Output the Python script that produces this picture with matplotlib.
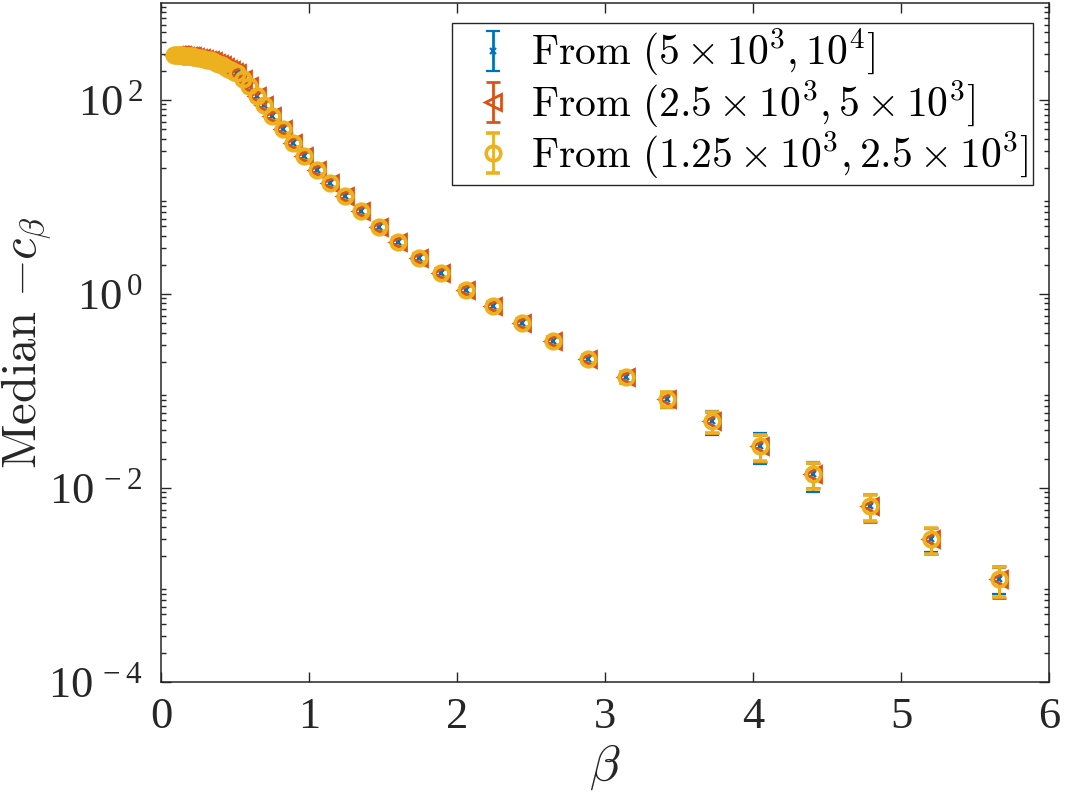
import numpy as np
import matplotlib.pyplot as plt
from matplotlib.ticker import LogLocator, FuncFormatter, NullFormatter, FixedLocator
from matplotlib.legend_handler import HandlerErrorbar

plt.rcParams['font.family'] = 'Liberation Serif'
plt.rcParams['mathtext.fontset'] = 'cm'

# dense part at small beta (markers overlap into one band)
beta_dense = [0.09, 0.10, 0.11, 0.12, 0.13, 0.14, 0.15, 0.165, 0.18, 0.195, 0.21, 0.23,
              0.25, 0.27, 0.29, 0.31, 0.33, 0.35, 0.37, 0.39, 0.41, 0.43, 0.45, 0.47, 0.49]
median_dense = [288, 289, 289, 289, 288, 288, 287, 286, 285, 283, 281, 278,
                274, 270, 266, 261, 256, 250, 243, 236, 228, 220, 211, 204, 196]

# separated points
beta = [0.512, 0.557, 0.593, 0.647, 0.695, 0.748, 0.823, 0.89, 0.964, 1.052, 1.14, 1.24,
        1.349, 1.47, 1.598, 1.74, 1.895, 2.063, 2.245, 2.44, 2.65, 2.886, 3.142, 3.419,
        3.722, 4.046, 4.403, 4.788, 5.206, 5.664]
median = [190, 164, 139, 110, 88.8, 68.4, 50.2, 36.0, 26.5, 19.0, 13.9, 10.2,
          7.17, 4.91, 3.44, 2.35, 1.64, 1.10, 0.752, 0.502, 0.327, 0.214, 0.139, 0.0827,
          0.0491, 0.0271, 0.0139, 0.00652, 0.00298, 0.00115]

err_blue = [17, 15, 12.5, 10, 8.0, 6.2, 4.5, 3.2, 2.4, 1.7, 1.25, 0.92,
            0.65, 0.44, 0.31, 0.21, 0.15, 0.10, 0.068, 0.045, 0.03, 0.02, 0.018, 0.016,
            0.0135, 0.0095, 0.0048, 0.0019, 0.0008, 0.00035]
err_red = [17, 15, 12.5, 10, 8.0, 6.2, 4.5, 3.2, 2.4, 1.7, 1.25, 0.92,
           0.65, 0.44, 0.31, 0.21, 0.15, 0.10, 0.068, 0.045, 0.03, 0.02, 0.017, 0.015,
           0.012, 0.0085, 0.0040, 0.0021, 0.0009, 0.00042]
err_yellow = [17, 15, 12.5, 10, 8.0, 6.2, 4.5, 3.2, 2.4, 1.7, 1.25, 0.92,
              0.65, 0.44, 0.31, 0.21, 0.15, 0.10, 0.068, 0.045, 0.03, 0.02, 0.017, 0.015,
              0.012, 0.0081, 0.0042, 0.0020, 0.0009, 0.0004]

labels = [r'$\mathrm{From}\ (5\times10^3,10^4]$',
          r'$\mathrm{From}\ (2.5\times10^3,5\times10^3]$',
          r'$\mathrm{From}\ (1.25\times10^3,2.5\times10^3]$']
colors = ['#0072BD', '#D95319', '#EDB120']
markers = ['x', '<', 'o']
msizes = [5, 11, 10.5]
mews = [1.6, 2, 2.6]
errs = [err_blue, err_red, err_yellow]

fig = plt.figure(figsize=(10.65, 8.09), dpi=100)
ax = fig.add_axes([161/1065, 1-682/809, (1049-161)/1065, (682-3)/809])

handles = []
for c, m, ms, mw, e, lab in zip(colors, markers, msizes, mews, errs, labels):
    ax.plot(beta_dense, median_dense, linestyle='none', marker=m, ms=ms,
            mfc='none', mec=c, mew=mw)
    h = ax.errorbar(beta, median, yerr=e, fmt=m, ms=ms, mfc='none', mec=c, mew=mw,
                    ecolor=c, elinewidth=2, capsize=5, capthick=2, label=lab)
    handles.append(h)

ax.set_yscale('log')
ax.set_xlim(0, 6)
ax.set_ylim(1e-4, 1e3)
ax.yaxis.set_major_locator(FixedLocator([1e-4, 1e-2, 1e0, 1e2]))
ax.yaxis.set_major_formatter(FuncFormatter(lambda v, p: r'$\mathdefault{10^{\,%d}}$' % round(np.log10(v))))
ax.yaxis.set_minor_locator(LogLocator(base=10, subs=np.arange(2, 10), numticks=20))
ax.yaxis.set_minor_formatter(NullFormatter())
ax.set_xticks(range(7))

for s in ax.spines.values():
    s.set_color('#262626')
    s.set_linewidth(1.1)
ax.tick_params(which='both', direction='in', top=True, right=True, colors='#262626',
               labelsize=32, width=1.0)
ax.tick_params(which='major', length=7)
ax.tick_params(which='minor', length=3.5)
ax.tick_params(axis='x', pad=11)
ax.tick_params(axis='y', pad=13)

ax.set_xlabel(r'$\beta$', fontsize=36, color='#262626', labelpad=4)
ax.set_ylabel(r'$\mathrm{Median}\ {-c_\beta}$', fontsize=35, color='#262626')
ax.yaxis.set_label_coords(-0.12, 0.5)

leg = ax.legend(handles=handles, loc='upper right', bbox_to_anchor=(1033/1065, 1-23/809),
                bbox_transform=fig.transFigure, borderaxespad=0, fontsize=30,
                fancybox=False, framealpha=1, edgecolor='#262626', handlelength=1.75,
                handletextpad=0.05, labelspacing=0.0, borderpad=0.1,
                handler_map={type(handles[0]): HandlerErrorbar(yerr_size=0.48)})
leg.get_frame().set_linewidth(1.0)

fig.savefig('out.png', dpi=100)
